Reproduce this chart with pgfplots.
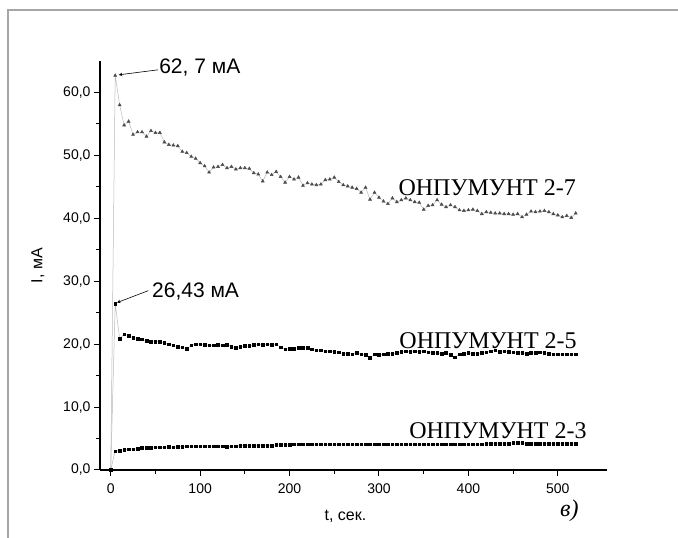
\documentclass[border=0pt]{standalone}
\usepackage{fontspec}
\setmainfont{Liberation Sans}
\newfontfamily\tnr{Liberation Serif}
\usepackage{pgfplots}
\pgfplotsset{compat=1.18}

\pgfplotstableread{
t I
0 0
5 62.7
10 58.0
15 54.8
20 55.4
25 53.3
30 53.7
35 53.7
40 53.0
45 53.9
50 53.6
55 53.6
60 52.1
65 51.7
70 51.6
75 51.5
80 50.6
85 50.4
90 49.8
95 49.5
100 48.8
105 48.3
110 47.3
115 48.1
120 48.2
125 48.5
130 48.0
135 48.2
140 47.8
145 48.0
150 48.0
155 47.9
160 47.2
165 47.0
170 45.9
175 47.3
180 46.9
185 47.4
190 46.6
195 45.7
200 46.6
205 46.2
210 46.5
215 45.2
220 45.6
225 45.4
230 45.3
235 45.4
240 46.1
245 46.2
250 46.5
255 45.8
260 45.3
265 45.1
270 44.9
275 44.7
280 44.1
285 44.9
290 43.0
295 44.1
300 43.3
305 42.7
310 42.3
315 43.2
320 42.6
325 42.9
330 43.2
335 42.9
340 42.6
345 42.5
350 41.4
355 42.0
360 42.1
365 42.9
370 42.2
375 41.8
380 42.1
385 41.8
390 41.3
395 41.2
400 41.3
405 41.4
410 41.2
415 40.7
420 41.0
425 40.9
430 40.8
435 40.8
440 40.7
445 40.7
450 40.6
455 40.7
460 40.2
465 40.6
470 41.1
475 41.0
480 41.1
485 41.2
490 41.0
495 40.7
500 40.5
505 40.2
510 40.4
515 40.1
520 40.8
}\sevendata

\pgfplotstableread{
t I
0 0
5 26.4
10 20.9
15 21.6
20 21.3
25 21.0
30 20.9
35 20.8
40 20.5
45 20.4
50 20.4
55 20.4
60 20.2
65 20.0
70 19.8
75 19.6
80 19.5
85 19.3
90 19.8
95 20.0
100 20.0
105 19.9
110 19.8
115 19.8
120 19.9
125 19.8
130 19.9
135 19.6
140 19.4
145 19.6
150 19.7
155 19.7
160 19.9
165 20.0
170 19.9
175 20.0
180 19.9
185 20.0
190 19.5
195 19.2
200 19.3
205 19.3
210 19.4
215 19.4
220 19.4
225 19.2
230 19.0
235 19.0
240 18.9
245 18.9
250 18.8
255 18.7
260 18.5
265 18.5
270 18.4
275 18.6
280 18.4
285 18.3
290 17.8
295 18.4
300 18.3
305 18.4
310 18.5
315 18.5
320 18.6
325 18.8
330 18.9
335 18.8
340 18.9
345 18.8
350 18.9
355 18.7
360 18.6
365 18.6
370 18.5
375 18.6
380 18.3
385 17.9
390 18.4
395 18.5
400 18.6
405 18.5
410 18.5
415 18.6
420 18.7
425 18.9
430 19.0
435 18.8
440 18.9
445 18.8
450 18.7
455 18.6
460 18.6
465 18.5
470 18.6
475 18.6
480 18.7
485 18.6
490 18.5
495 18.4
500 18.4
505 18.4
510 18.4
515 18.4
520 18.4
}\fivedata

\pgfplotstableread{
t I
0 0
5 3.0
10 3.1
15 3.2
20 3.3
25 3.3
30 3.4
35 3.5
40 3.5
45 3.5
50 3.6
55 3.6
60 3.6
65 3.7
70 3.6
75 3.7
80 3.7
85 3.8
90 3.8
95 3.8
100 3.8
105 3.8
110 3.8
115 3.8
120 3.8
125 3.8
130 3.7
135 3.8
140 3.8
145 3.9
150 3.9
155 3.9
160 3.9
165 3.9
170 3.9
175 3.9
180 3.9
185 4.0
190 4.0
195 4.0
200 4.0
205 4.1
210 4.1
215 4.1
220 4.1
225 4.1
230 4.1
235 4.1
240 4.1
245 4.1
250 4.1
255 4.1
260 4.1
265 4.1
270 4.1
275 4.1
280 4.1
285 4.1
290 4.1
295 4.1
300 4.1
305 4.1
310 4.1
315 4.1
320 4.1
325 4.1
330 4.1
335 4.1
340 4.1
345 4.1
350 4.1
355 4.1
360 4.1
365 4.1
370 4.1
375 4.1
380 4.1
385 4.1
390 4.1
395 4.1
400 4.1
405 4.1
410 4.1
415 4.1
420 4.2
425 4.2
430 4.2
435 4.2
440 4.2
445 4.2
450 4.3
455 4.3
460 4.3
465 4.2
470 4.2
475 4.2
480 4.2
485 4.2
490 4.2
495 4.2
500 4.2
505 4.2
510 4.2
515 4.2
520 4.2
}\threedata

\begin{document}
\begin{tikzpicture}
\path[use as bounding box] (-100pt,-68pt) rectangle (578pt,470pt);
% frame of the scanned figure
\draw[gray!70, line width=1.5pt] (-92pt,-68pt) -- (-92pt,460pt) -- (578pt,460pt);
\begin{axis}[
    at={(0pt,0pt)}, anchor=south west,
    scale only axis, width=507pt, height=409pt,
    xmin=-12, xmax=555, ymin=0, ymax=65,
    axis lines=left, axis line style={-, line width=1.3pt},
    xtick={0,100,...,500}, ytick={0,10,...,60},
    minor x tick num=1, minor y tick num=1,
    tick align=outside,
    major tick length=6pt, minor tick length=4pt,
    tick style={black, line width=1pt},
    every tick label/.append style={font=\fontsize{14}{16}\selectfont},
    xticklabel style={yshift=-4pt, /pgf/number format/assume math mode=true},
    yticklabel style={/pgf/number format/.cd, fixed, fixed zerofill, precision=1, use comma, assume math mode=true},
    xlabel={t, сек.}, ylabel={I, мА},
    label style={font=\fontsize{16}{18}\selectfont},
    xlabel style={yshift=-10pt, xshift=-8pt},
    ylabel style={yshift=12pt},
    clip=false,
]
\addplot[gray!55, line width=0.5pt, mark=triangle*, mark size=1.7pt,
    mark options={gray!60!black, solid}] table[x=t, y=I] {\sevendata};
\addplot[gray!55, line width=0.5pt, mark=square*, mark size=1.3pt,
    mark options={black, solid}] table[x=t, y=I] {\fivedata};
\addplot[gray!55, line width=0.5pt, mark=square*, mark size=1.3pt,
    mark options={black, solid}] table[x=t, y=I] {\threedata};

\draw[-stealth, line width=0.6pt] (axis cs:53,63.6) -- (axis cs:9,62.8);
\node[anchor=west, inner sep=1pt, font=\fontsize{21}{24}\selectfont] at (axis cs:53,64.0) {62, 7 мА};
\draw[-stealth, line width=0.6pt] (axis cs:42,28.5) -- (axis cs:7,26.6);
\node[anchor=west, inner sep=1pt, font=\fontsize{21}{24}\selectfont] at (axis cs:45,28.3) {26,43 мА};

\node[font=\tnr\fontsize{24}{28}\selectfont] at (axis cs:421,44.8) {ОНПУМУНТ 2-7};
\node[font=\tnr\fontsize{24}{28}\selectfont] at (axis cs:422,20.5) {ОНПУМУНТ 2-5};
\node[font=\tnr\fontsize{24}{28}\selectfont] at (axis cs:433,6.2) {ОНПУМУНТ 2-3};
\node[font=\tnr\itshape\fontsize{24}{28}\selectfont] at (axis cs:513,-6.4) {в)};
\end{axis}
\end{tikzpicture}
\end{document}
